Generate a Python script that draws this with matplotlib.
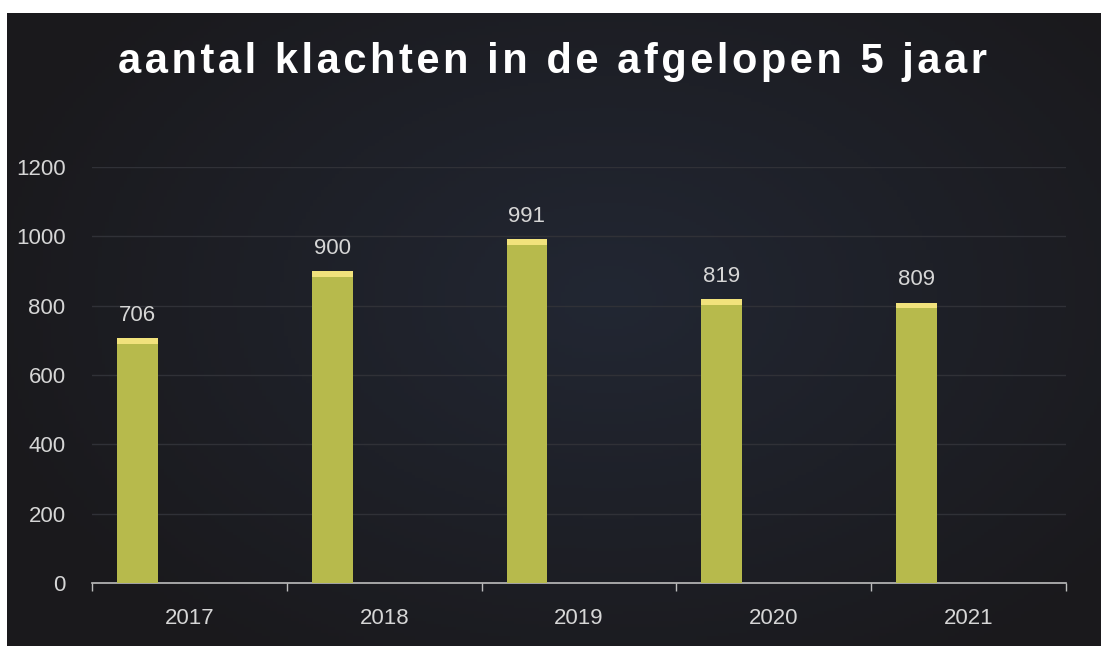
import numpy as np
import matplotlib
matplotlib.use("Agg")
import matplotlib.pyplot as plt

# data
jaren = ["2017", "2018", "2019", "2020", "2021"]
klachten = [706, 900, 991, 819, 809]
yticks = [0, 200, 400, 600, 800, 1000, 1200]
titel = "aantal klachten in de afgelopen 5 jaar"

plt.rcParams['font.family'] = ['Liberation Sans', 'DejaVu Sans']

fig = plt.figure(figsize=(11.06, 6.46), dpi=100)
fig.patch.set_facecolor('white')

# donker paneel met lichte blauwe gloed in het midden
bg = fig.add_axes([7/1106, 0, 1094/1106, 1 - 13/646])
bg.set_axis_off()
yy, xx = np.mgrid[0:1:200j, 0:1:300j]
d = np.sqrt(((xx - 0.55) / 0.6) ** 2 + ((yy - 0.45) / 0.7) ** 2)
glow = np.clip(1 - d, 0, 1)
base = np.array([0x1a, 0x19, 0x1c]) / 255
blue = np.array([0x22, 0x27, 0x33]) / 255
img = base + glow[..., None] * (blue - base)
bg.imshow(img, aspect='auto', extent=[0, 1, 0, 1], zorder=0)
bg.set_xlim(0, 1)
bg.set_ylim(0, 1)

ax = fig.add_axes([92/1106, 1 - 583/646, (1066 - 92)/1106, (583 - 167)/646])
ax.patch.set_alpha(0)

x = np.arange(len(jaren))
offset = -0.267
breedte = 0.21
ax.bar(x + offset, klachten, width=breedte, color='#b7ba4c', zorder=3)
# lichtgele bovenkant
cap = 16
ax.bar(x + offset, [cap] * len(klachten), bottom=np.array(klachten) - cap,
       width=breedte, color='#f1e27c', zorder=4)

for xi, v in zip(x, klachten):
    ax.text(xi + offset, v + 36, str(v), ha='center', va='bottom',
            color='#d6d6d6', fontsize=16)

ax.set_xlim(-0.5, len(jaren) - 0.5)
ax.set_ylim(0, 1200)
ax.set_yticks(yticks)
ax.set_yticklabels([str(t) for t in yticks])
ax.tick_params(axis='y', length=0, pad=19, labelcolor='#d6d6d6', labelsize=16)
ax.set_xticks(x)
ax.set_xticklabels(jaren)
ax.tick_params(axis='x', which='major', length=0, pad=18, labelcolor='#d6d6d6', labelsize=16)
ax.set_xticks(np.arange(-0.5, len(jaren)), minor=True)
ax.tick_params(axis='x', which='minor', length=6, width=1, color='#bdbdbd')

ax.grid(axis='y', color='#303137', linewidth=1, zorder=0)
for s in ['top', 'right', 'left']:
    ax.spines[s].set_visible(False)
ax.spines['bottom'].set_color('#bdbdbd')
ax.spines['bottom'].set_linewidth(1.2)

# titel met iets extra letterafstand
gespreid = "\u200a".join(titel)
fig.text(0.5, 1 - 62/646, gespreid, ha='center', va='center', color='white',
         fontsize=30, fontweight='bold', family=['Liberation Sans', 'DejaVu Sans'])

fig.savefig('out.png', dpi=100, facecolor=fig.get_facecolor())
